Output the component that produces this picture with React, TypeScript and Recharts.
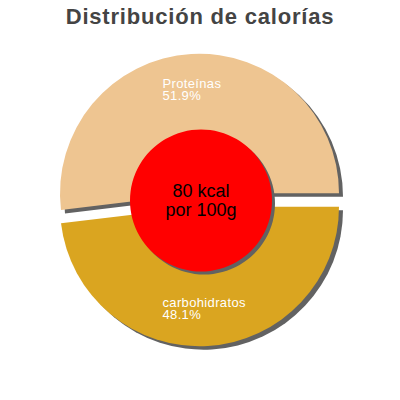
import { Cell, Pie, PieChart } from "recharts";

const names = ["Proteínas", "carbohidratos"];
const shares = [51.9, 48.1];
const energyLabel = ["80 kcal", "por 100g"];

const COLORS = ["#EEC591", "#DAA520"];
const SHADOW = "#626262";
const RADIAN = Math.PI / 180;

const sliceData = names.map((name, i) => ({ name, value: shares[i] }));
const centerData = [{ name: "kcal", value: 1 }];

const CX = 199.5;
const CY = 193.3;
const EXPLODE = 13.4;
const R = 139.5;
const SDX = 4;
const SDY = 3.5;

// only one slice of each pie is drawn, so its label is the only one shown
function makeLabel(only: number) {
  return (props: any) => {
    const { cx, cy, midAngle, index, percent, name } = props;
    if (index !== only) return null;
    const py = cy - 103 * Math.sin(midAngle * RADIAN);
    const x = cx - 37;
    return (
      <text
        x={x}
        y={py - 2.5}
        fill="#fff"
        fontSize={13}
        letterSpacing={0.35}
        fontFamily="'Liberation Sans', Arial, sans-serif"
        textAnchor="start"
      >
        <tspan x={x}>{name}</tspan>
        <tspan x={x} dy={12}>{`${(percent * 100).toFixed(1)}%`}</tspan>
      </text>
    );
  };
}

const CenterLabel = (props: any) => {
  const { cx, cy } = props;
  return (
    <text
      x={cx}
      y={cy - 3.8}
      fill="#000"
      fontSize={18}
      fontFamily="'Liberation Sans', Arial, sans-serif"
      textAnchor="middle"
    >
      <tspan x={cx}>{energyLabel[0]}</tspan>
      <tspan x={cx} dy={19.3}>{energyLabel[1]}</tspan>
    </text>
  );
};

export default function App() {
  const slice = (
    key: string,
    cx: number,
    cy: number,
    show: number,
    fill: string,
    label: any
  ) => (
    <Pie
      key={key}
      data={sliceData}
      dataKey="value"
      cx={cx}
      cy={cy}
      outerRadius={R}
      innerRadius={0}
      startAngle={0}
      endAngle={360}
      stroke="none"
      labelLine={false}
      label={label}
      isAnimationActive={false}
    >
      {sliceData.map((_, i) => (
        <Cell key={`c-${i}`} fill={i === show ? fill : "transparent"} />
      ))}
    </Pie>
  );

  return (
    <div style={{ position: "absolute", left: 0, top: 0, width: 400, height: 400, background: "#fff" }}>
      <div
        style={{
          position: "absolute",
          left: 0,
          top: 4,
          width: 400,
          textAlign: "center",
          fontFamily: "'Liberation Sans', Arial, sans-serif",
          fontWeight: "bold",
          fontSize: 22,
          letterSpacing: 0.8,
          color: "#444",
          lineHeight: "26px",
        }}
      >
        Distribución de calorías
      </div>
      <PieChart width={400} height={400} margin={{ top: 0, right: 0, bottom: 0, left: 0 }}>
        {slice("ps", CX + SDX, CY + SDY, 0, SHADOW, false)}
        {slice("cs", CX + SDX, CY + EXPLODE + SDY, 1, SHADOW, false)}
        {slice("p", CX, CY, 0, COLORS[0], makeLabel(0))}
        {slice("c", CX, CY + EXPLODE, 1, COLORS[1], makeLabel(1))}
        <Pie
          data={centerData}
          dataKey="value"
          cx={201 + 3}
          cy={200.5 + 3}
          outerRadius={71}
          stroke="none"
          fill={SHADOW}
          isAnimationActive={false}
        />
        <Pie
          data={centerData}
          dataKey="value"
          cx={201}
          cy={200.5}
          outerRadius={71}
          stroke="none"
          fill="#FF0000"
          labelLine={false}
          label={CenterLabel}
          isAnimationActive={false}
        />
      </PieChart>
    </div>
  );
}
